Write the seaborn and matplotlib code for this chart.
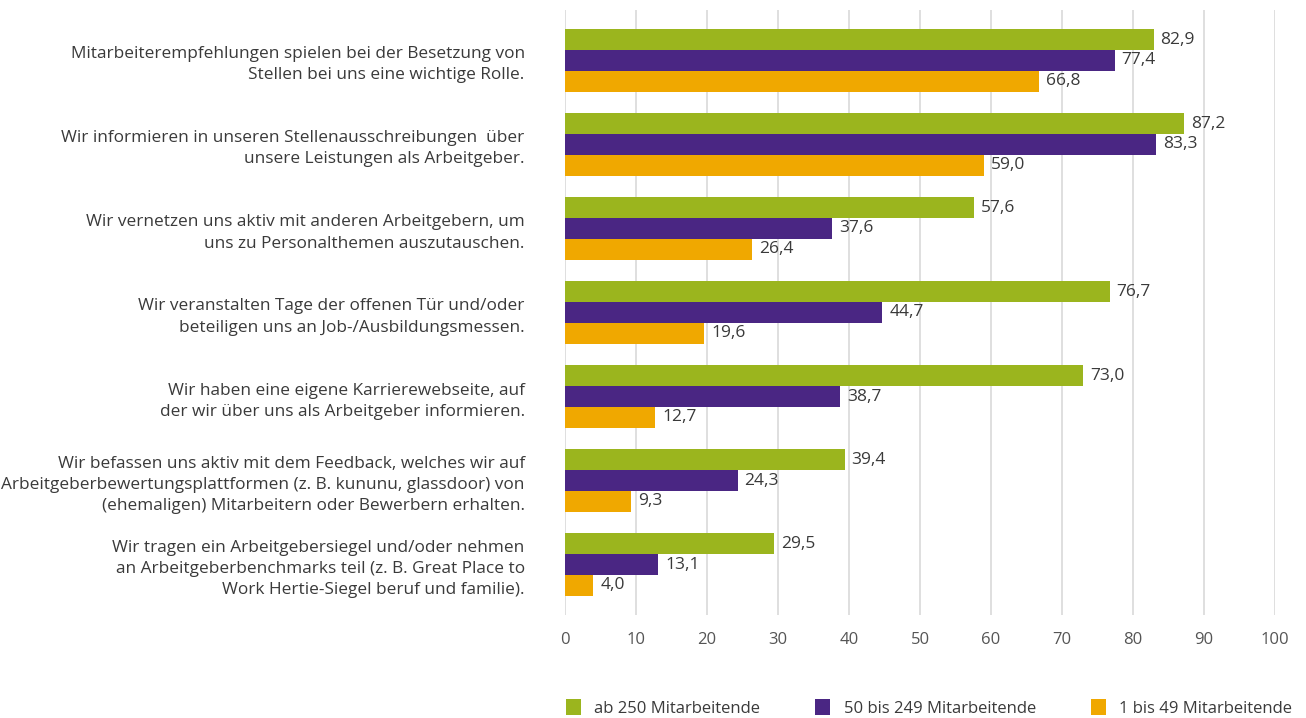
import matplotlib
matplotlib.use("Agg")
import matplotlib.pyplot as plt
import seaborn as sns
import pandas as pd
from matplotlib.patches import Patch

categories = [
    "Mitarbeiterempfehlungen spielen bei der Besetzung von\nStellen bei uns eine wichtige Rolle.",
    "Wir informieren in unseren Stellenausschreibungen  über\nunsere Leistungen als Arbeitgeber.",
    "Wir vernetzen uns aktiv mit anderen Arbeitgebern, um\nuns zu Personalthemen auszutauschen.",
    "Wir veranstalten Tage der offenen Tür und/oder\nbeteiligen uns an Job-/Ausbildungsmessen.",
    "Wir haben eine eigene Karrierewebseite, auf\nder wir über uns als Arbeitgeber informieren.",
    "Wir befassen uns aktiv mit dem Feedback, welches wir auf\nArbeitgeberbewertungsplattformen (z. B. kununu, glassdoor) von\n(ehemaligen) Mitarbeitern oder Bewerbern erhalten.",
    "Wir tragen ein Arbeitgebersiegel und/oder nehmen\nan Arbeitgeberbenchmarks teil (z. B. Great Place to\nWork Hertie-Siegel beruf und familie).",
]
series_names = ["ab 250 Mitarbeitende", "50 bis 249 Mitarbeitende", "1 bis 49 Mitarbeitende"]
vals_large = [82.9, 87.2, 57.6, 76.7, 73.0, 39.4, 29.5]
vals_medium = [77.4, 83.3, 37.6, 44.7, 38.7, 24.3, 13.1]
vals_small = [66.8, 59.0, 26.4, 19.6, 12.7, 9.3, 4.0]
x_ticks = [0, 10, 20, 30, 40, 50, 60, 70, 80, 90, 100]
colors = ["#9bb51e", "#4a2683", "#f0a800"]

sns.set_theme(style="white")
plt.rcParams["font.family"] = ["Open Sans", "DejaVu Sans"]
text_color = "#3a3a3a"

rows = []
for name, vals in zip(series_names, [vals_large, vals_medium, vals_small]):
    for c, v in zip(categories, vals):
        rows.append({"cat": c, "series": name, "value": v})
df = pd.DataFrame(rows)

fig = plt.figure(figsize=(13.06, 7.18), dpi=100)
ax = fig.add_axes([565 / 1306, 1 - 615 / 718, 710 / 1306, 605 / 718])

sns.barplot(data=df, y="cat", x="value", hue="series", order=categories,
            hue_order=series_names, palette=colors, orient="h", width=0.74,
            ax=ax, legend=False, saturation=1, zorder=3, linewidth=0)

for cont in ax.containers:
    labels = [f"{b.get_width():.1f}".replace(".", ",") for b in cont]
    ax.bar_label(cont, labels=labels, padding=5, fontsize=12.5, color=text_color)

ax.set_xlim(0, 100)
ax.set_ylim(6.6, -0.6)
ax.set_xticks(x_ticks)
ax.set_xticklabels([str(t) for t in x_ticks], fontsize=12, color="#555555")
ax.tick_params(axis="x", length=0, pad=12)
ax.tick_params(axis="y", length=0, pad=29)
ax.set_yticks(range(len(categories)))
ax.set_yticklabels(categories, fontsize=12.4, color=text_color, linespacing=1.42)
for lbl in ax.get_yticklabels():
    lbl.set_horizontalalignment("right")
    lbl.set_y(lbl.get_position()[1])
ax.set_xlabel("")
ax.set_ylabel("")
ax.xaxis.grid(True, color="#d9d9d9", linewidth=1.2, zorder=0)
ax.set_axisbelow(True)
for s in ax.spines.values():
    s.set_visible(False)

handles = [Patch(facecolor=c, edgecolor="none") for c in colors]
fig.legend(handles, series_names, loc="center left",
           bbox_to_anchor=(566 / 1306, 1 - 708 / 718), borderaxespad=0, borderpad=0,
           ncol=3, frameon=False, fontsize=12, handlelength=0.9, handleheight=1.1,
           handletextpad=0.8, columnspacing=3.3, labelcolor=text_color)

fig.savefig("out.png", dpi=100)
